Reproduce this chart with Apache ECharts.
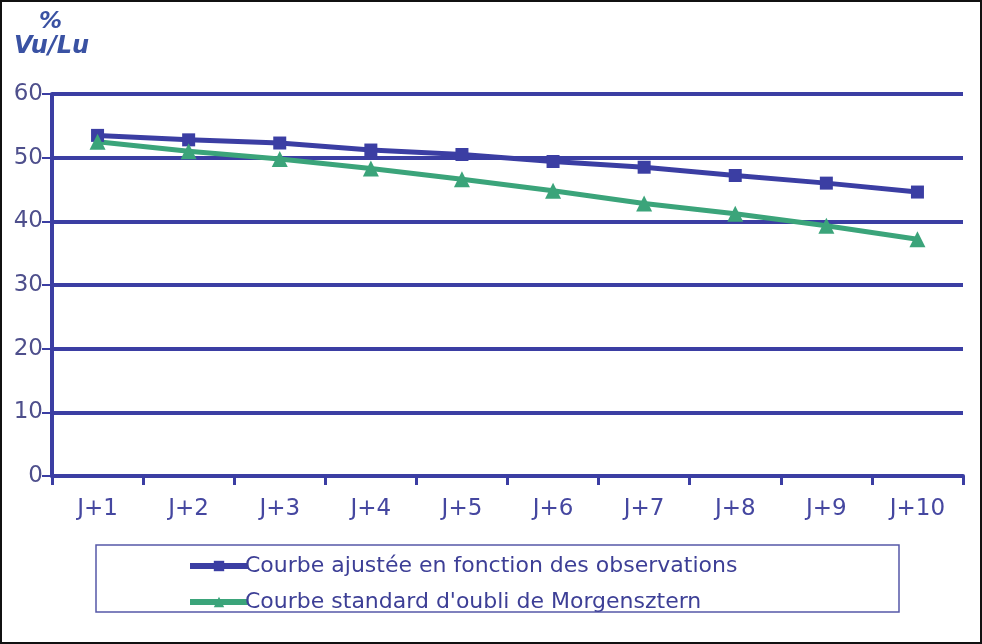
<!DOCTYPE html>
<html>
<head>
<meta charset="utf-8" />
<title>Courbe d'oubli</title>
<script src="https://cdn.jsdelivr.net/npm/echarts@6/dist/echarts.min.js"></script>
<style>
  html, body { margin: 0; padding: 0; background: #fff; }
  #chart { width: 982px; height: 644px; box-sizing: border-box; border: 2px solid #111; }
</style>
</head>
<body>
<div id="chart"></div>
<script type="text/javascript">
  // jours apres exposition
  var jours = ['J+1', 'J+2', 'J+3', 'J+4', 'J+5', 'J+6', 'J+7', 'J+8', 'J+9', 'J+10'];
  // % Vu/Lu, courbe ajustee
  var courbeAjustee = [53.5, 52.8, 52.3, 51.2, 50.5, 49.4, 48.5, 47.2, 46.0, 44.6];
  // % Vu/Lu, courbe standard de Morgensztern
  var courbeStandard = [52.5, 51.0, 49.8, 48.3, 46.6, 44.8, 42.8, 41.2, 39.3, 37.2];
  var yTicks = [0, 10, 20, 30, 40, 50, 60];

  var bleu = '#3b3ea3';
  var vert = '#3ba47a';

  var myChart = echarts.init(document.getElementById('chart'));

  var option = {
    animation: false,
    grid: { left: 50, right: 17, top: 92, bottom: 166 },
    graphic: [
      { type: 'text', left: 37, top: 9, style: { text: '%', font: 'italic bold 23px "DejaVu Sans"', fill: '#3a52a3' } },
      { type: 'text', left: 12, top: 33, style: { text: 'Vu/Lu', font: 'italic bold 24px "DejaVu Sans"', fill: '#3a52a3' } },
      { type: 'rect', shape: { x: 94, y: 543, width: 803, height: 67 },
        style: { fill: 'none', stroke: '#5558a8', lineWidth: 1.5 } }
    ],
    legend: {
      orient: 'vertical',
      left: 180,
      top: 548,
      itemWidth: 58,
      itemHeight: 13,
      itemGap: 14,
      lineStyle: { width: 6 },
      textStyle: { fontFamily: 'DejaVu Sans', fontSize: 22, color: '#3d3f96', padding: [0, 0, 0, -8] },
      data: ['Courbe ajustée en fonction des observations', "Courbe standard d'oubli de Morgensztern"]
    },
    xAxis: {
      type: 'category',
      data: jours,
      boundaryGap: true,
      axisLine: { lineStyle: { color: bleu, width: 4 } },
      axisTick: { show: true, length: 9, lineStyle: { color: bleu, width: 3 } },
      axisLabel: { margin: 22, fontFamily: 'DejaVu Sans', fontSize: 23, color: '#4547a0' }
    },
    yAxis: {
      type: 'value',
      min: yTicks[0],
      max: yTicks[yTicks.length - 1],
      interval: 10,
      axisLine: { show: true, lineStyle: { color: bleu, width: 4 } },
      axisTick: { show: true, length: 10, lineStyle: { color: bleu, width: 2 } },
      axisLabel: { margin: 9, fontFamily: 'DejaVu Sans', fontSize: 23, color: '#4e4f8c' },
      splitLine: { lineStyle: { color: bleu, width: 4 } }
    },
    series: [
      {
        name: 'Courbe ajustée en fonction des observations',
        type: 'line',
        data: courbeAjustee,
        symbol: 'rect',
        symbolSize: 13,
        color: bleu,
        lineStyle: { color: bleu, width: 5 },
        itemStyle: { color: bleu }
      },
      {
        name: "Courbe standard d'oubli de Morgensztern",
        type: 'line',
        data: courbeStandard,
        symbol: 'triangle',
        symbolSize: 16,
        color: vert,
        lineStyle: { color: vert, width: 5 },
        itemStyle: { color: vert }
      }
    ]
  };

  myChart.setOption(option);
</script>
</body>
</html>
